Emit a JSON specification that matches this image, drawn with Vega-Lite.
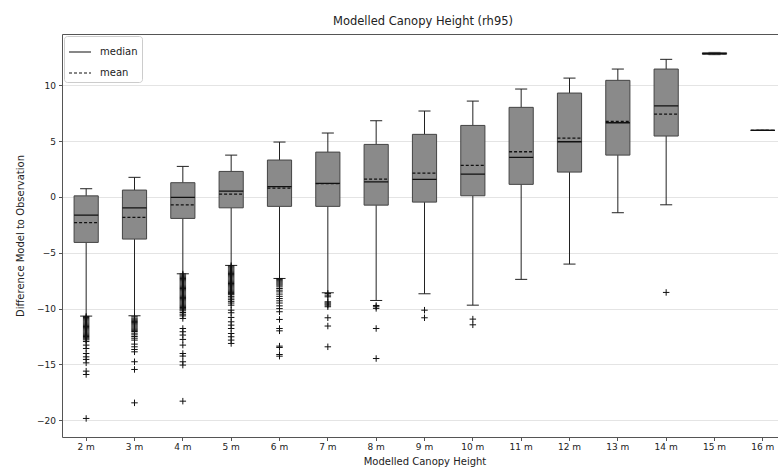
{
  "$schema": "https://vega.github.io/schema/vega-lite/v6.json",
  "autosize": {"type": "none"},
  "width": 716,
  "height": 403,
  "padding": {"left": 62, "top": 34, "right": 0, "bottom": 31},
  "title": {"text": "Modelled Canopy Height (rh95)", "font": "DejaVu Sans", "fontSize": 11.5, "fontWeight": "normal", "color": "#222", "offset": 7, "dx": 3},
  "config": {
    "view": {"stroke": null},
    "font": "DejaVu Sans",
    "axis": {"labelFont": "DejaVu Sans", "titleFont": "DejaVu Sans", "labelColor": "#222", "titleColor": "#222", "labelFontSize": 9, "titleFontSize": 10, "titleFontWeight": "normal", "domainColor": "#555", "tickColor": "#555", "tickSize": 3.5}
  },
  "datasets": {
    "boxes": [
      {"h": "2 m", "lo": -10.67, "q1": -4.07, "median": -1.62, "mean": -2.3, "q3": 0.1, "hi": 0.74},
      {"h": "3 m", "lo": -10.64, "q1": -3.77, "median": -0.97, "mean": -1.83, "q3": 0.62, "hi": 1.76},
      {"h": "4 m", "lo": -6.88, "q1": -1.92, "median": -0.04, "mean": -0.7, "q3": 1.28, "hi": 2.74},
      {"h": "5 m", "lo": -6.13, "q1": -0.97, "median": 0.53, "mean": 0.26, "q3": 2.29, "hi": 3.75},
      {"h": "6 m", "lo": -7.3, "q1": -0.84, "median": 0.92, "mean": 0.8, "q3": 3.31, "hi": 4.92},
      {"h": "7 m", "lo": -8.58, "q1": -0.84, "median": 1.22, "mean": 1.2, "q3": 4.02, "hi": 5.73},
      {"h": "8 m", "lo": -9.27, "q1": -0.73, "median": 1.36, "mean": 1.6, "q3": 4.71, "hi": 6.83},
      {"h": "9 m", "lo": -8.67, "q1": -0.46, "median": 1.58, "mean": 2.14, "q3": 5.61, "hi": 7.7},
      {"h": "10 m", "lo": -9.69, "q1": 0.11, "median": 2.05, "mean": 2.83, "q3": 6.41, "hi": 8.59},
      {"h": "11 m", "lo": -7.38, "q1": 1.13, "median": 3.55, "mean": 4.05, "q3": 8.03, "hi": 9.67},
      {"h": "12 m", "lo": -6.01, "q1": 2.23, "median": 4.95, "mean": 5.28, "q3": 9.31, "hi": 10.65},
      {"h": "13 m", "lo": -1.41, "q1": 3.75, "median": 6.65, "mean": 6.77, "q3": 10.45, "hi": 11.46},
      {"h": "14 m", "lo": -0.7, "q1": 5.46, "median": 8.17, "mean": 7.43, "q3": 11.46, "hi": 12.33},
      {"h": "15 m", "lo": 12.75, "q1": 12.79, "median": 12.85, "mean": 12.85, "q3": 12.92, "hi": 12.95},
      {"h": "16 m", "lo": 5.97, "q1": 5.97, "median": 5.97, "mean": 5.97, "q3": 5.97, "hi": 5.97}
    ],
    "outliers": [
      {"h": "2 m", "v": -10.7}, {"h": "2 m", "v": -10.8}, {"h": "2 m", "v": -10.9}, {"h": "2 m", "v": -11.0}, {"h": "2 m", "v": -11.1}, {"h": "2 m", "v": -11.2}, {"h": "2 m", "v": -11.3}, {"h": "2 m", "v": -11.4}, {"h": "2 m", "v": -11.5}, {"h": "2 m", "v": -11.6}, {"h": "2 m", "v": -11.7}, {"h": "2 m", "v": -11.8}, {"h": "2 m", "v": -11.9}, {"h": "2 m", "v": -12.0}, {"h": "2 m", "v": -12.1}, {"h": "2 m", "v": -12.2}, {"h": "2 m", "v": -12.3}, {"h": "2 m", "v": -12.4}, {"h": "2 m", "v": -12.5}, {"h": "2 m", "v": -12.6}, {"h": "2 m", "v": -12.7}, {"h": "2 m", "v": -12.8}, {"h": "2 m", "v": -12.95}, {"h": "2 m", "v": -13.27}, {"h": "2 m", "v": -13.57}, {"h": "2 m", "v": -14.02}, {"h": "2 m", "v": -14.32}, {"h": "2 m", "v": -14.55}, {"h": "2 m", "v": -14.86}, {"h": "2 m", "v": -15.6}, {"h": "2 m", "v": -15.9}, {"h": "2 m", "v": -19.84},
      {"h": "3 m", "v": -10.73}, {"h": "3 m", "v": -10.85}, {"h": "3 m", "v": -10.95}, {"h": "3 m", "v": -11.05}, {"h": "3 m", "v": -11.15}, {"h": "3 m", "v": -11.25}, {"h": "3 m", "v": -11.35}, {"h": "3 m", "v": -11.45}, {"h": "3 m", "v": -11.55}, {"h": "3 m", "v": -11.65}, {"h": "3 m", "v": -11.75}, {"h": "3 m", "v": -11.85}, {"h": "3 m", "v": -11.95}, {"h": "3 m", "v": -12.05}, {"h": "3 m", "v": -12.2}, {"h": "3 m", "v": -12.35}, {"h": "3 m", "v": -12.5}, {"h": "3 m", "v": -12.65}, {"h": "3 m", "v": -12.82}, {"h": "3 m", "v": -13.18}, {"h": "3 m", "v": -13.42}, {"h": "3 m", "v": -13.66}, {"h": "3 m", "v": -13.87}, {"h": "3 m", "v": -14.76}, {"h": "3 m", "v": -15.45}, {"h": "3 m", "v": -18.44},
      {"h": "4 m", "v": -6.9}, {"h": "4 m", "v": -7.0}, {"h": "4 m", "v": -7.1}, {"h": "4 m", "v": -7.2}, {"h": "4 m", "v": -7.3}, {"h": "4 m", "v": -7.4}, {"h": "4 m", "v": -7.5}, {"h": "4 m", "v": -7.6}, {"h": "4 m", "v": -7.7}, {"h": "4 m", "v": -7.8}, {"h": "4 m", "v": -7.9}, {"h": "4 m", "v": -8.0}, {"h": "4 m", "v": -8.1}, {"h": "4 m", "v": -8.2}, {"h": "4 m", "v": -8.3}, {"h": "4 m", "v": -8.4}, {"h": "4 m", "v": -8.5}, {"h": "4 m", "v": -8.6}, {"h": "4 m", "v": -8.7}, {"h": "4 m", "v": -8.8}, {"h": "4 m", "v": -8.9}, {"h": "4 m", "v": -9.0}, {"h": "4 m", "v": -9.1}, {"h": "4 m", "v": -9.2}, {"h": "4 m", "v": -9.3}, {"h": "4 m", "v": -9.4}, {"h": "4 m", "v": -9.5}, {"h": "4 m", "v": -9.6}, {"h": "4 m", "v": -9.7}, {"h": "4 m", "v": -9.8}, {"h": "4 m", "v": -9.9}, {"h": "4 m", "v": -10.0}, {"h": "4 m", "v": -10.1}, {"h": "4 m", "v": -10.2}, {"h": "4 m", "v": -10.35}, {"h": "4 m", "v": -10.5}, {"h": "4 m", "v": -10.65}, {"h": "4 m", "v": -10.88}, {"h": "4 m", "v": -11.78}, {"h": "4 m", "v": -12.07}, {"h": "4 m", "v": -12.37}, {"h": "4 m", "v": -12.76}, {"h": "4 m", "v": -13.27}, {"h": "4 m", "v": -14.02}, {"h": "4 m", "v": -14.25}, {"h": "4 m", "v": -14.76}, {"h": "4 m", "v": -15.06}, {"h": "4 m", "v": -18.29},
      {"h": "5 m", "v": -6.15}, {"h": "5 m", "v": -6.25}, {"h": "5 m", "v": -6.35}, {"h": "5 m", "v": -6.45}, {"h": "5 m", "v": -6.55}, {"h": "5 m", "v": -6.65}, {"h": "5 m", "v": -6.75}, {"h": "5 m", "v": -6.85}, {"h": "5 m", "v": -6.95}, {"h": "5 m", "v": -7.05}, {"h": "5 m", "v": -7.15}, {"h": "5 m", "v": -7.25}, {"h": "5 m", "v": -7.35}, {"h": "5 m", "v": -7.45}, {"h": "5 m", "v": -7.55}, {"h": "5 m", "v": -7.65}, {"h": "5 m", "v": -7.75}, {"h": "5 m", "v": -7.85}, {"h": "5 m", "v": -7.95}, {"h": "5 m", "v": -8.05}, {"h": "5 m", "v": -8.15}, {"h": "5 m", "v": -8.25}, {"h": "5 m", "v": -8.35}, {"h": "5 m", "v": -8.45}, {"h": "5 m", "v": -8.55}, {"h": "5 m", "v": -8.65}, {"h": "5 m", "v": -8.75}, {"h": "5 m", "v": -8.9}, {"h": "5 m", "v": -9.05}, {"h": "5 m", "v": -9.2}, {"h": "5 m", "v": -9.35}, {"h": "5 m", "v": -9.5}, {"h": "5 m", "v": -9.69}, {"h": "5 m", "v": -10.14}, {"h": "5 m", "v": -10.37}, {"h": "5 m", "v": -10.79}, {"h": "5 m", "v": -11.18}, {"h": "5 m", "v": -11.48}, {"h": "5 m", "v": -11.78}, {"h": "5 m", "v": -12.23}, {"h": "5 m", "v": -12.52}, {"h": "5 m", "v": -12.82}, {"h": "5 m", "v": -13.12},
      {"h": "6 m", "v": -7.3}, {"h": "6 m", "v": -7.4}, {"h": "6 m", "v": -7.5}, {"h": "6 m", "v": -7.6}, {"h": "6 m", "v": -7.7}, {"h": "6 m", "v": -7.8}, {"h": "6 m", "v": -7.9}, {"h": "6 m", "v": -8.05}, {"h": "6 m", "v": -8.2}, {"h": "6 m", "v": -8.35}, {"h": "6 m", "v": -8.5}, {"h": "6 m", "v": -8.7}, {"h": "6 m", "v": -8.9}, {"h": "6 m", "v": -9.1}, {"h": "6 m", "v": -9.3}, {"h": "6 m", "v": -9.5}, {"h": "6 m", "v": -9.75}, {"h": "6 m", "v": -10.0}, {"h": "6 m", "v": -10.28}, {"h": "6 m", "v": -10.97}, {"h": "6 m", "v": -11.78}, {"h": "6 m", "v": -11.99}, {"h": "6 m", "v": -13.36}, {"h": "6 m", "v": -13.48}, {"h": "6 m", "v": -14.11}, {"h": "6 m", "v": -14.26},
      {"h": "7 m", "v": -8.64}, {"h": "7 m", "v": -8.79}, {"h": "7 m", "v": -8.94}, {"h": "7 m", "v": -9.39}, {"h": "7 m", "v": -9.49}, {"h": "7 m", "v": -9.59}, {"h": "7 m", "v": -9.69}, {"h": "7 m", "v": -9.83}, {"h": "7 m", "v": -10.82}, {"h": "7 m", "v": -11.56}, {"h": "7 m", "v": -13.42},
      {"h": "8 m", "v": -9.72}, {"h": "8 m", "v": -9.83}, {"h": "8 m", "v": -9.98}, {"h": "8 m", "v": -11.78}, {"h": "8 m", "v": -14.47},
      {"h": "9 m", "v": -10.14}, {"h": "9 m", "v": -10.82},
      {"h": "10 m", "v": -10.94}, {"h": "10 m", "v": -11.45},
      {"h": "14 m", "v": -8.55}
    ]
  },
  "encoding": {
    "x": {
      "field": "h", "type": "nominal",
      "scale": {"type": "band", "domain": ["2 m", "3 m", "4 m", "5 m", "6 m", "7 m", "8 m", "9 m", "10 m", "11 m", "12 m", "13 m", "14 m", "15 m", "16 m"], "range": [0, 725], "paddingInner": 0, "paddingOuter": 0}
    }
  },
  "layer": [
    {
      "data": {"name": "boxes"},
      "mark": {"type": "rule", "color": "#222", "strokeWidth": 1},
      "encoding": {
        "x": {"field": "h", "type": "nominal", "axis": {"orient": "bottom", "title": "Modelled Canopy Height", "labelAngle": 0, "labelPadding": 2, "titlePadding": 5, "domainColor": "#555", "grid": false}},
        "y": {"field": "q3", "type": "quantitative", "scale": {"domain": [-21.5, 14.6], "nice": false, "zero": false}, "axis": {"title": "Difference Model to Observation", "values": [-20, -15, -10, -5, 0, 5, 10], "grid": true, "gridColor": "#dddddd", "gridWidth": 0.8, "labelPadding": 3, "titlePadding": 11}},
        "y2": {"field": "hi"}
      }
    },
    {
      "data": {"name": "boxes"},
      "mark": {"type": "rule", "color": "#222", "strokeWidth": 1},
      "encoding": {
        "x": {"field": "h", "type": "nominal", "axis": null},
        "y": {"field": "lo", "type": "quantitative"},
        "y2": {"field": "q1"}
      }
    },
    {
      "data": {"name": "boxes"},
      "transform": [{"fold": ["lo", "hi"], "as": ["end", "cap"]}],
      "mark": {"type": "rule", "color": "#222", "strokeWidth": 1},
      "encoding": {
        "x": {"field": "h", "type": "nominal", "bandPosition": 0.375, "axis": null},
        "x2": {"field": "h", "bandPosition": 0.625},
        "y": {"field": "cap", "type": "quantitative"}
      }
    },
    {
      "data": {"name": "boxes"},
      "mark": {"type": "bar", "fill": "#8a8a8a", "stroke": "#444", "strokeWidth": 1},
      "encoding": {
        "x": {"field": "h", "type": "nominal", "bandPosition": 0.25, "axis": null},
        "x2": {"field": "h", "bandPosition": 0.75},
        "y": {"field": "q1", "type": "quantitative"},
        "y2": {"field": "q3"}
      }
    },
    {
      "data": {"name": "boxes"},
      "transform": [{"fold": ["median", "mean"], "as": ["stat", "v"]}],
      "mark": {"type": "rule", "color": "#111", "strokeWidth": 1.3},
      "encoding": {
        "x": {"field": "h", "type": "nominal", "bandPosition": 0.25, "axis": {"orient": "top", "labels": false, "ticks": false, "title": null, "domainColor": "#555", "grid": false}},
        "x2": {"field": "h", "bandPosition": 0.75},
        "y": {"field": "v", "type": "quantitative"},
        "strokeDash": {
          "field": "stat", "type": "nominal",
          "scale": {"domain": ["median", "mean"], "range": [[1, 0], [3, 2]]},
          "legend": {"title": null, "orient": "top-left", "offset": 2, "padding": 4, "fillColor": "white", "strokeColor": "#cccccc", "cornerRadius": 3, "symbolType": "stroke", "symbolSize": 484, "symbolStrokeWidth": 1.2, "symbolStrokeColor": "#111", "labelFont": "DejaVu Sans", "labelFontSize": 10, "labelColor": "#222", "labelOffset": 8, "rowPadding": 4, "labelLimit": 80}
        }
      }
    },
    {
      "data": {"name": "outliers"},
      "mark": {"type": "point", "shape": "M-1,0L1,0M0,-1L0,1", "filled": false, "stroke": "#111", "strokeWidth": 1, "size": 42, "opacity": 1},
      "encoding": {
        "x": {"field": "h", "type": "nominal", "axis": null},
        "y": {"field": "v", "type": "quantitative"}
      }
    }
  ],
  "resolve": {"axis": {"x": "independent"}}
}
